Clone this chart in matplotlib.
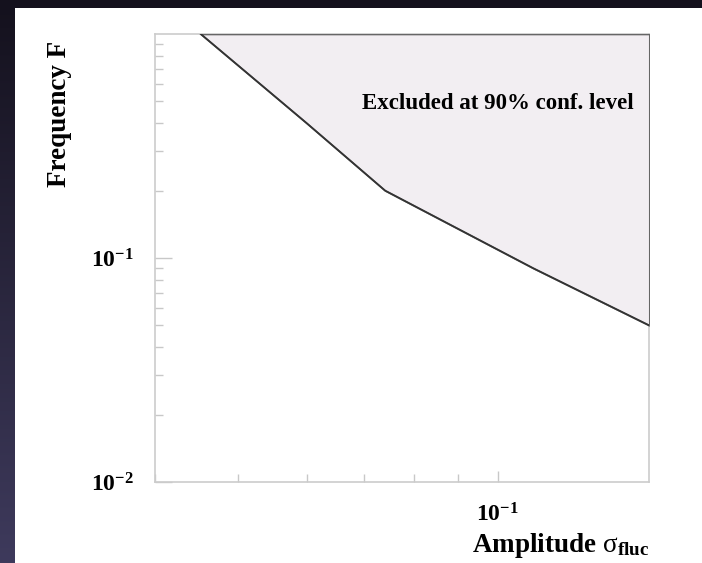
import numpy as np
import matplotlib
matplotlib.use("Agg")
import matplotlib.pyplot as plt
from matplotlib.ticker import NullFormatter, LogLocator, FixedLocator
from matplotlib.patches import Rectangle

plt.rcParams['font.family'] = ['Liberation Serif', 'DejaVu Serif']
plt.rcParams['mathtext.fontset'] = 'custom'
plt.rcParams['mathtext.rm'] = 'Liberation Serif'
plt.rcParams['mathtext.it'] = 'Liberation Serif:italic'
plt.rcParams['mathtext.bf'] = 'Liberation Serif:bold'

# ---- data ----
amplitude = [0.0452, 0.060, 0.074, 0.110, 0.150]
frequency = [1.0, 0.40, 0.20, 0.090, 0.050]
x_limits = [0.04, 0.15]
y_limits = [0.01, 1.0]
x_ticks = [0.1]
x_tick_labels = [r'$\mathbf{10^{-1}}$']
y_ticks = [0.01, 0.1]
y_tick_labels = [r'$\mathbf{10^{-2}}$', r'$\mathbf{10^{-1}}$']
region_label = "Excluded at 90% conf. level"
x_title = r'Amplitude $\mathrm{\sigma}_{\mathbf{fluc}}$'
y_title = "Frequency F"

W, H = 702, 563
fig = plt.figure(figsize=(W / 100, H / 100), dpi=100)
fig.patch.set_facecolor('#15121e')

# background gradient (dark top, purple-grey towards the bottom left)
bg = fig.add_axes([0, 0, 1, 1], zorder=-10)
grad = np.linspace(0, 1, 256)[:, None]
c_top = np.array([0x14, 0x11, 0x1d]) / 255
c_bot = np.array([0x3e, 0x3a, 0x5c]) / 255
img = c_top[None, None, :] * (1 - grad[..., None]) + c_bot[None, None, :] * grad[..., None]
img = np.repeat(img, 2, axis=1)
bg.imshow(img, aspect='auto', extent=[0, 1, 0, 1], origin='upper')
bg.set_xlim(0, 1)
bg.set_ylim(0, 1)
bg.axis('off')
bg.add_patch(Rectangle((15 / W, 0), 1 - 15 / W, 1 - 8 / H, facecolor='white',
                       edgecolor='none', transform=bg.transAxes))

left, right, top, bottom = 155, 649.3, 34, 482
ax = fig.add_axes([left / W, 1 - bottom / H, (right - left) / W, (bottom - top) / H])
ax.set_facecolor('white')
ax.set_xscale('log')
ax.set_yscale('log')
ax.set_xlim(*x_limits)
ax.set_ylim(*y_limits)

ax.fill_between(amplitude, frequency, y_limits[1], facecolor='#f2eef2',
                edgecolor='#666666', linewidth=1.2, zorder=3)
ax.plot(amplitude, frequency, color='#333333', linewidth=1.3, zorder=4)

for s in ax.spines.values():
    s.set_color('#cccccc')
    s.set_linewidth(1.2)
    s.set_zorder(2)

ax.xaxis.set_major_locator(FixedLocator(x_ticks))
ax.set_xticklabels(x_tick_labels)
ax.xaxis.set_minor_locator(LogLocator(base=10, subs=np.arange(2, 10), numticks=20))
ax.xaxis.set_minor_formatter(NullFormatter())
ax.yaxis.set_major_locator(FixedLocator(y_ticks))
ax.set_yticklabels(y_tick_labels)
ax.yaxis.set_minor_locator(LogLocator(base=10, subs=np.arange(2, 10), numticks=20))
ax.yaxis.set_minor_formatter(NullFormatter())

ax.tick_params(axis='both', which='both', direction='in', color='#c8c8c8', width=1.0)
ax.tick_params(axis='y', which='major', length=12, pad=15, labelsize=17)
ax.tick_params(axis='y', which='minor', length=6)
ax.tick_params(axis='x', which='major', length=8, pad=15, labelsize=17)
ax.tick_params(axis='x', which='minor', length=5.5)
ax.tick_params(top=False, right=False, which='both')

ax.text(0.969, 0.844, region_label, transform=ax.transAxes,
        ha='right', va='center', fontsize=16.5, fontweight='bold', color='black',
        zorder=5)

ax.set_xlabel(x_title, fontsize=19.5, fontweight='bold', ha='right', va='baseline')
ax.xaxis.set_label_coords(1.0, -0.156)
ax.set_ylabel(y_title, fontsize=19.5, fontweight='bold', ha='right', va='center')
ax.yaxis.set_label_coords(-0.194, 0.984)

fig.savefig('out.png', dpi=100, facecolor=fig.get_facecolor())
